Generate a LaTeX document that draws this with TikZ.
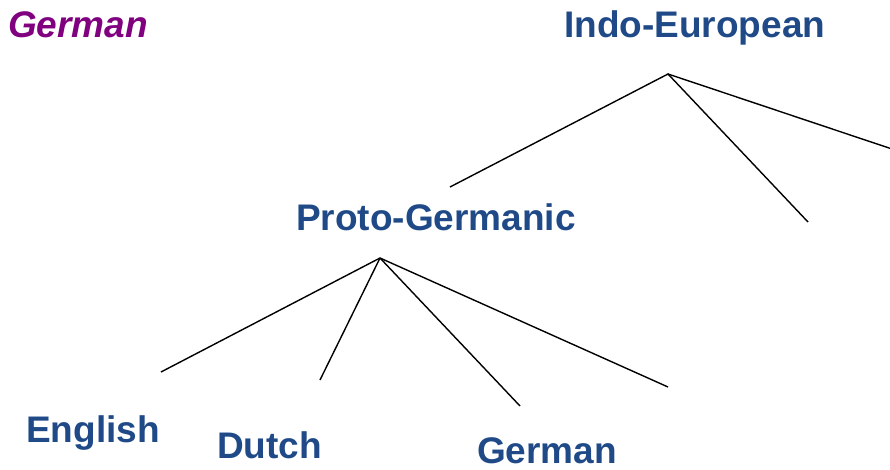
\documentclass[tikz,border=0pt]{standalone}
\usepackage{fontspec}
\setmainfont{Liberation Sans}
\definecolor{langblue}{HTML}{1F4A87}
\definecolor{langpurple}{HTML}{800080}
\begin{document}
\begin{tikzpicture}[x=1pt,y=-1pt,
  lang/.style={anchor=base west,inner sep=0pt,text=langblue,font=\fontsize{37}{40}\selectfont\bfseries},
  title/.style={anchor=base west,inner sep=0pt,text=langpurple,font=\fontsize{37}{40}\selectfont\bfseries\itshape},
  branch/.style={draw=black,line width=1.4pt}]
\useasboundingbox[fill=white] (0,0) rectangle (890,470);
\node[title] (ttl) at (8,38) {German};
\node[lang] (ie) at (564,38) {Indo-European};
\node[lang] (pg) at (296,230) {Proto-Germanic};
\node[lang] (en) at (26,442) {English};
\node[lang] (du) at (217,458) {Dutch};
\node[lang,text depth=0pt] (ge) at (477,463) {German};
\coordinate (ieapex) at (668,74);
\coordinate (ie1) at (450,187);
\coordinate (ie2) at (808,222);
\coordinate (ie3) at (892,149);
\coordinate (pgapex) at (380,258);
\coordinate (pg1) at (161,372);
\coordinate (pg2) at (320,380);
\coordinate (pg3) at (520,406);
\coordinate (pg4) at (668,387);
\draw[branch] (ie1) -- (ieapex) -- (ie2);
\draw[branch] (ieapex) -- (ie3);
\draw[branch] (pgapex) -- (pg1);
\draw[branch] (pgapex) -- (pg2);
\draw[branch] (pgapex) -- (pg3);
\draw[branch] (pgapex) -- (pg4);
\end{tikzpicture}
\end{document}
